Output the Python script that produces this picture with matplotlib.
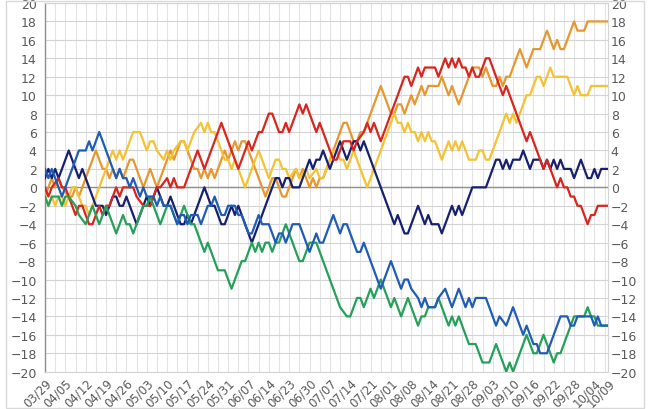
import matplotlib.pyplot as plt
from matplotlib.patches import Rectangle

# --------------------- Data: games above .500 on each game day ---------------------
# (game-day index, wins minus losses) at each turning point of the line
tick_dates = ['03/29', '04/05', '04/12', '04/19', '04/26', '05/03', '05/10', '05/17',
              '05/24', '05/31', '06/07', '06/14', '06/23', '06/30', '07/07', '07/14',
              '07/21', '08/01', '08/08', '08/14', '08/21', '08/28', '09/03', '09/10',
              '09/16', '09/22', '09/28', '10/04', '10/09']
tick_days = list(range(0, 163, 6)) + [166]
last_day = 166

orange = [(0, -1), (1, 0), (2, 1), (3, 0), (4, 1), (5, 0), (7, -1), (8, -1), (9, 0), (10, -1),
          (11, 0), (15, 4), (16, 3), (17, 2), (18, 2), (19, 1), (20, 2), (21, 1), (22, 2), (23, 1),
          (25, 3), (26, 3), (27, 2), (28, 1), (29, 0), (31, 2), (32, 1), (33, 0), (37, 4), (38, 3),
          (39, 4), (40, 5), (41, 5), (42, 4), (44, 2), (45, 2), (46, 1), (47, 2), (48, 1), (49, 2),
          (50, 1), (53, 4), (54, 3), (56, 5), (57, 4), (58, 5), (59, 5), (65, -1), (67, 1), (68, 1),
          (70, -1), (71, -1), (74, 2), (75, 1), (76, 2), (78, 0), (79, 1), (80, 0), (81, 1), (82, 1),
          (84, 3), (85, 4), (86, 5), (88, 7), (89, 7), (91, 5), (92, 5), (93, 6), (94, 6), (99, 11),
          (102, 8), (103, 8), (104, 9), (105, 9), (106, 8), (108, 10), (109, 9), (111, 11), (112, 10),
          (113, 11), (116, 11), (117, 12), (118, 11), (119, 10), (120, 11), (122, 9), (124, 11),
          (125, 12), (126, 13), (128, 13), (129, 12), (130, 13), (131, 12), (132, 11), (133, 11),
          (134, 12), (135, 11), (136, 12), (137, 12), (140, 15), (142, 13), (144, 15), (146, 15),
          (148, 17), (150, 15), (151, 16), (152, 15), (153, 15), (156, 18), (157, 17), (159, 17),
          (160, 18), (166, 18)]

yellow = [(0, -1), (1, -2), (2, -1), (3, -2), (4, -1), (5, -1), (6, -2), (8, 0), (9, 0), (11, -2),
          (12, -2), (13, -3), (17, 1), (18, 2), (19, 3), (20, 4), (21, 3), (22, 4), (23, 3), (24, 4),
          (26, 6), (28, 6), (30, 4), (31, 5), (32, 5), (33, 4), (35, 3), (36, 4), (37, 3), (38, 4),
          (40, 5), (41, 5), (42, 4), (44, 6), (46, 7), (47, 6), (48, 7), (49, 6), (50, 6), (51, 5),
          (53, 3), (54, 3), (55, 2), (56, 3), (59, 0), (60, 1), (63, 4), (64, 3), (66, 1), (67, 2),
          (68, 3), (69, 3), (70, 2), (71, 2), (72, 1), (74, 2), (75, 1), (77, 2), (78, 1), (80, 2),
          (81, 1), (82, 1), (85, 4), (86, 4), (87, 3), (88, 3), (89, 2), (91, 4), (95, 0), (99, 4),
          (101, 6), (103, 8), (104, 7), (105, 7), (106, 6), (107, 7), (108, 6), (109, 6), (110, 5),
          (111, 6), (112, 5), (113, 6), (114, 5), (115, 5), (116, 4), (117, 3), (119, 5), (120, 4),
          (121, 5), (122, 4), (123, 5), (125, 3), (127, 3), (128, 4), (129, 4), (130, 3), (131, 3),
          (136, 8), (137, 7), (138, 8), (139, 7), (140, 8), (142, 10), (143, 10), (144, 11),
          (145, 12), (146, 12), (147, 11), (149, 13), (150, 12), (154, 12), (156, 10), (157, 11),
          (158, 10), (160, 10), (161, 11), (166, 11)]

navy = [(0, 1), (1, 2), (2, 1), (3, 2), (4, 1), (7, 4), (10, 1), (11, 2), (15, -2), (17, -2),
        (18, -3), (20, -1), (21, -1), (22, -2), (23, -2), (24, -1), (27, -4), (30, -1), (31, -2),
        (33, 0), (35, -2), (36, -2), (37, -1), (40, -4), (41, -4), (42, -3), (43, -4), (47, 0),
        (49, -2), (50, -2), (52, -4), (53, -4), (55, -2), (56, -3), (57, -2), (58, -3), (61, -6),
        (68, 1), (69, 1), (70, 0), (71, 1), (72, 1), (73, 0), (75, 0), (78, 3), (79, 2), (80, 3),
        (81, 3), (82, 4), (84, 2), (87, 5), (89, 3), (90, 4), (91, 5), (92, 5), (93, 4), (94, 5),
        (100, -1), (103, -4), (104, -3), (106, -5), (107, -5), (109, -3), (110, -2), (112, -4),
        (113, -3), (114, -4), (116, -4), (117, -5), (120, -2), (121, -3), (122, -2), (123, -3),
        (126, 0), (130, 0), (133, 3), (134, 3), (135, 2), (136, 3), (137, 2), (138, 3), (140, 3),
        (141, 4), (143, 2), (144, 3), (146, 3), (147, 2), (148, 3), (149, 2), (150, 3), (151, 2),
        (152, 3), (153, 2), (155, 2), (156, 1), (158, 3), (160, 1), (161, 1), (162, 2), (163, 1),
        (164, 2), (166, 2)]

red = [(0, 0), (1, -1), (2, 0), (4, 1), (5, 0), (6, 0), (9, -3), (10, -2), (11, -2), (13, -4),
       (14, -4), (16, -2), (17, -3), (18, -2), (19, -2), (21, 0), (22, -1), (23, 0), (26, 0),
       (27, -1), (29, -2), (31, -2), (33, 0), (34, 0), (36, 1), (37, 0), (38, 1), (39, 0), (41, 0),
       (45, 4), (46, 3), (47, 2), (48, 3), (52, 7), (53, 6), (55, 4), (56, 3), (57, 2), (60, 5),
       (61, 4), (63, 6), (64, 6), (66, 8), (67, 8), (68, 7), (69, 6), (70, 6), (71, 7), (72, 6),
       (75, 9), (76, 8), (77, 9), (80, 6), (81, 7), (84, 4), (85, 3), (86, 3), (88, 5), (90, 5),
       (91, 4), (92, 5), (94, 6), (95, 7), (96, 6), (97, 7), (99, 5), (101, 7), (106, 12),
       (107, 12), (108, 11), (110, 13), (111, 12), (112, 13), (115, 13), (116, 12), (118, 14),
       (119, 13), (120, 14), (121, 13), (122, 14), (123, 13), (124, 13), (125, 12), (126, 13),
       (127, 12), (128, 12), (130, 14), (131, 14), (133, 12), (134, 11), (135, 10), (136, 11),
       (138, 9), (140, 7), (142, 5), (143, 6), (144, 5), (146, 3), (147, 2), (148, 3), (149, 2),
       (151, 0), (152, 1), (153, 0), (154, 0), (155, -1), (156, -1), (157, -2), (158, -2),
       (160, -4), (161, -3), (162, -3), (163, -2), (166, -2)]

blue = [(0, 2), (1, 1), (2, 2), (3, 1), (4, 0), (5, -1), (6, 0), (8, 2), (10, 4), (12, 4),
        (13, 5), (14, 4), (16, 6), (20, 2), (21, 1), (22, 2), (23, 1), (24, 1), (25, 0), (26, 1),
        (28, -1), (29, 0), (30, -1), (32, -1), (33, -2), (34, -1), (35, -2), (37, -2), (39, -4),
        (40, -3), (41, -3), (42, -4), (43, -3), (45, -3), (46, -4), (48, -2), (49, -2), (50, -1),
        (52, -3), (53, -3), (54, -2), (56, -2), (57, -3), (58, -3), (60, -5), (61, -5), (63, -3),
        (64, -4), (66, -4), (68, -6), (69, -5), (70, -5), (71, -6), (73, -4), (75, -4), (78, -7),
        (80, -5), (81, -6), (82, -6), (85, -3), (87, -5), (88, -4), (89, -4), (90, -5), (92, -7),
        (93, -7), (94, -6), (97, -9), (99, -11), (102, -8), (105, -11), (106, -10), (107, -10),
        (108, -11), (110, -12), (111, -13), (112, -12), (113, -13), (115, -13), (116, -12),
        (118, -11), (120, -13), (122, -11), (124, -13), (125, -12), (126, -13), (127, -12),
        (130, -12), (133, -15), (134, -14), (136, -15), (138, -13), (141, -16), (142, -15),
        (144, -17), (145, -17), (146, -18), (148, -18), (152, -14), (154, -14), (155, -15),
        (156, -15), (157, -14), (161, -14), (162, -15), (163, -14), (164, -15), (166, -15)]

green = [(0, -1), (1, -2), (2, -1), (4, -1), (5, -2), (6, -1), (7, -1), (9, -2), (10, -3),
         (12, -4), (14, -2), (16, -4), (18, -2), (21, -5), (23, -3), (24, -4), (25, -4), (26, -5),
         (29, -2), (30, -2), (31, -1), (32, -2), (34, -4), (36, -2), (37, -2), (39, -4), (41, -2),
         (43, -4), (44, -4), (47, -7), (48, -6), (51, -9), (53, -9), (55, -11), (58, -8), (59, -8),
         (61, -6), (62, -7), (63, -6), (64, -7), (65, -6), (66, -6), (67, -7), (68, -6), (69, -6),
         (71, -4), (72, -5), (75, -8), (76, -8), (78, -6), (80, -6), (83, -9), (86, -12), (87, -13),
         (89, -14), (90, -14), (92, -12), (93, -12), (94, -13), (96, -11), (97, -12), (99, -10),
         (100, -11), (102, -13), (103, -12), (105, -14), (107, -12), (109, -14), (110, -15),
         (111, -14), (112, -14), (113, -13), (115, -13), (116, -12), (119, -15), (120, -14),
         (121, -15), (122, -14), (125, -17), (127, -17), (129, -19), (131, -19), (133, -17),
         (136, -20), (137, -19), (138, -20), (142, -16), (144, -18), (145, -18), (147, -16),
         (150, -19), (151, -18), (152, -18), (155, -15), (156, -14), (159, -14), (160, -13),
         (161, -14), (162, -14), (163, -15), (166, -15)]

series = [
    (orange, '#E8962E'),
    (yellow, '#F4C232'),
    (navy, '#16206E'),
    (red, '#D8251D'),
    (green, '#24A05A'),
    (blue, '#1F5CB5'),
]

# --------------------- Plot ---------------------
fig = plt.figure(figsize=(6.5, 4.1), dpi=100)
ax = fig.add_axes([45 / 650, 1 - 372.7 / 410, (608 - 45) / 650, (372.7 - 4) / 410])

# grid
for d in range(0, last_day + 1, 3):
    ax.axvline(d, color='#e3e3e3', lw=0.8, zorder=0)
for v in range(-20, 21, 2):
    ax.axhline(v, color='#d4d4d4', lw=0.8, zorder=0)
ax.axhline(0, color='#8f8f8f', lw=1.0, zorder=1)

for points, color in series:
    days, vals = zip(*points)
    ax.plot(days, vals, color=color, lw=1.6, zorder=3)

ax.set_xlim(0, last_day)
ax.set_ylim(-20, 20)
ax.set_yticks(range(-20, 21, 2))
ax.set_xticks(tick_days)
ax.set_xticklabels(tick_dates, rotation=45, ha='right', va='top', rotation_mode='anchor',
                   fontsize=8.5)
ax.tick_params(axis='both', length=0, labelcolor='#595959')
ax.tick_params(axis='y', labelsize=9, pad=6)
ax.tick_params(axis='x', pad=3)

# same scale repeated on the right, labels close to the edge
ax2 = ax.twinx()
ax2.set_ylim(-20, 20)
ax2.set_yticks(range(-20, 21, 2))
ax2.tick_params(axis='y', length=0, labelsize=9, labelcolor='#595959', pad=2)
for side in ['top', 'left', 'bottom', 'right']:
    ax2.spines[side].set_visible(False)

for side in ['top', 'right', 'bottom']:
    ax.spines[side].set_color('#d4d4d4')
    ax.spines[side].set_linewidth(0.8)
ax.spines['left'].set_color('#8f8f8f')
ax.spines['left'].set_linewidth(1.0)

# outer chart border
fig.patches.append(Rectangle((6 / 650, 1 / 410), 638 / 650, 407 / 410, transform=fig.transFigure,
                             fill=False, edgecolor='#d9d9d9', lw=1.0))

fig.savefig('out.png', dpi=100)
